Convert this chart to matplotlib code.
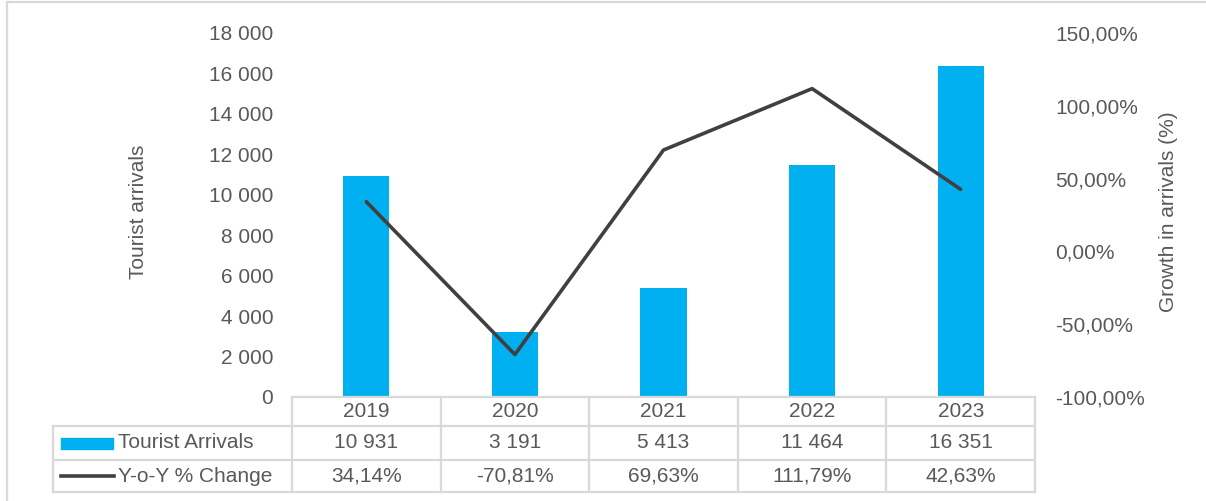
import matplotlib
matplotlib.use("Agg")
import matplotlib.pyplot as plt
from matplotlib.patches import Rectangle
from matplotlib.lines import Line2D
from matplotlib.ticker import FuncFormatter

years = ["2019", "2020", "2021", "2022", "2023"]
arrivals = [10931, 3191, 5413, 11464, 16351]
yoy_change = [34.14, -70.81, 69.63, 111.79, 42.63]
series_names = ["Tourist Arrivals", "Y-o-Y % Change"]
left_ticks = [0, 2000, 4000, 6000, 8000, 10000, 12000, 14000, 16000, 18000]
right_ticks = [-100, -50, 0, 50, 100, 150]

BAR = "#00B0F0"
LINE = "#404040"
TXT = "#595959"
GRID = "#D9D9D9"
FS = 15

plt.rcParams['font.family'] = ['Liberation Sans', 'DejaVu Sans']

W, H = 1206, 501
fig = plt.figure(figsize=(W / 100, H / 100), dpi=100)

def fx(px):
    return px / W

def fy(py):
    return 1 - py / H

# figure border (left and top)
fig.add_artist(Line2D([fx(7), fx(7)], [fy(2), 0], color=GRID, lw=1.6))
fig.add_artist(Line2D([fx(7), 1], [fy(2), fy(2)], color=GRID, lw=1.6))

L, R, T, B = 292, 1035, 33, 397
ax = fig.add_axes([fx(L), fy(B), (R - L) / W, (B - T) / H])
x = list(range(len(years)))
ax.bar(x, arrivals, width=0.31, color=BAR, zorder=2)
ax.set_xlim(-0.5, len(years) - 0.5)
ax.set_ylim(left_ticks[0], left_ticks[-1])
ax.set_yticks(left_ticks)
ax.yaxis.set_major_formatter(FuncFormatter(lambda v, p: f"{int(v):,}".replace(",", " ")))
ax.set_xticks([])
for s in ax.spines.values():
    s.set_visible(False)
ax.tick_params(axis='y', length=0, pad=13.5, labelsize=FS, labelcolor=TXT)

ax2 = ax.twinx()
ax2.plot(x, yoy_change, color=LINE, lw=2.6, zorder=3, solid_capstyle='round')
ax2.set_ylim(right_ticks[0], right_ticks[-1])
ax2.set_yticks(right_ticks)
ax2.yaxis.set_major_formatter(FuncFormatter(lambda v, p: f"{v:.2f}%".replace(".", ",")))
for s in ax2.spines.values():
    s.set_visible(False)
ax2.tick_params(axis='y', length=0, pad=14.5, labelsize=FS, labelcolor=TXT)

fig.text(fx(138), fy(212), "Tourist arrivals", rotation=90, ha='center', va='center',
         fontsize=FS, color=TXT)
fig.text(fx(1168), fy(212), "Growth in arrivals (%)", rotation=90, ha='center', va='center',
         fontsize=FS, color=TXT)

# data table
TL = 53
colw = (R - L) / len(years)
xleft = -0.5 - (L - TL) / colw
tax = fig.add_axes([fx(TL), fy(492), (R - TL) / W, (492 - 397) / H])
tax.set_xlim(xleft, len(years) - 0.5)
tax.set_ylim(492, 397)
tax.axis('off')

def dx(px):
    return -0.5 + (px - L) / colw

rows_y = [397, 426, 460, 492]
kw = dict(color=GRID, lw=1.6, clip_on=False, solid_capstyle='projecting')
tax.plot([-0.5, len(years) - 0.5], [rows_y[0]] * 2, **kw)
for yy in rows_y[1:]:
    tax.plot([xleft, len(years) - 0.5], [yy, yy], **kw)
for i in range(len(years) + 1):
    tax.plot([-0.5 + i] * 2, [rows_y[0], rows_y[-1]], **kw)
tax.plot([xleft] * 2, [rows_y[1], rows_y[-1]], **kw)

yc = [(rows_y[i] + rows_y[i + 1]) / 2 for i in range(3)]
for i, yr in enumerate(years):
    tax.text(i, yc[0], yr, ha='center', va='center', fontsize=FS, color=TXT)
    tax.text(i, yc[1], f"{arrivals[i]:,}".replace(",", " "), ha='center', va='center',
             fontsize=FS, color=TXT)
    tax.text(i, yc[2], f"{yoy_change[i]:.2f}%".replace(".", ","), ha='center', va='center',
             fontsize=FS, color=TXT)

tax.add_patch(Rectangle((dx(61), 438), dx(113) - dx(61), 11, color=BAR, clip_on=False))
tax.plot([dx(61), dx(114)], [476, 476], color=LINE, lw=2.6, clip_on=False)
tax.text(dx(118), yc[1], series_names[0], ha='left', va='center', fontsize=FS, color=TXT)
tax.text(dx(118), yc[2], series_names[1], ha='left', va='center', fontsize=FS, color=TXT)

fig.savefig("out.png", dpi=100)
